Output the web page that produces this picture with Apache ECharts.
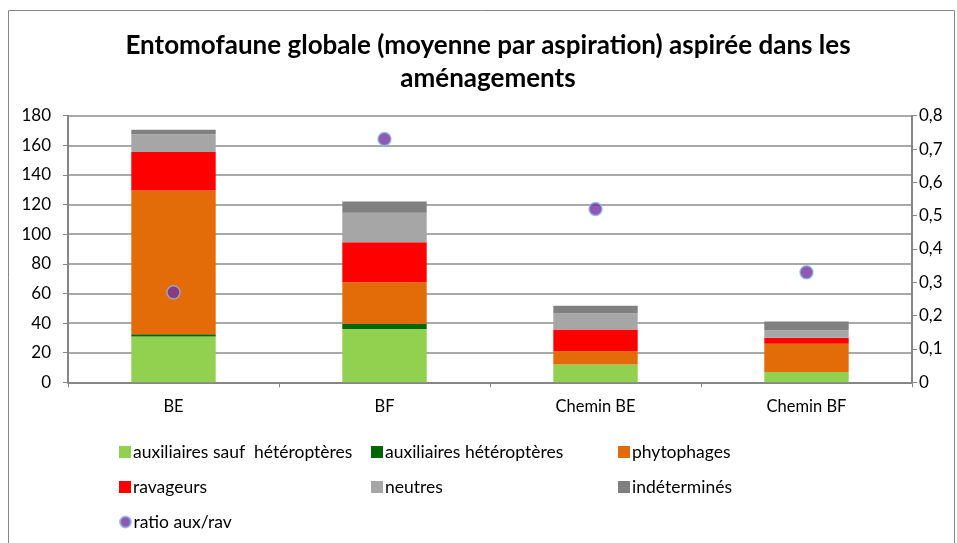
<!DOCTYPE html>
<html>
<head>
<meta charset="utf-8">
<script src="https://cdn.jsdelivr.net/npm/echarts@6/dist/echarts.min.js"></script>
<style>
html,body{margin:0;padding:0;background:#fff;}
#c{width:957px;height:543px;}
</style>
</head>
<body>
<div id="c"></div>
<script>
const categories = ['BE', 'BF', 'Chemin BE', 'Chemin BF'];
const auxSauf = [31, 36, 12, 7];
const auxHet = [1.5, 3.5, 0, 0];
const phyto = [97, 28, 9, 19];
const ravageurs = [26, 27, 14.6, 4];
const neutres = [12, 20, 11, 5.2];
const indet = [3, 7.6, 5, 5.8];
const ratio = [0.27, 0.73, 0.52, 0.33];
const leftTicks = [0, 180, 20];
const rightTicks = [0, 0.8, 0.1];

const FONT = 'Lato';
const chart = echarts.init(document.getElementById('c'), null, {renderer: 'canvas'});

const barNames = ['auxiliaires sauf  hétéroptères', 'auxiliaires hétéroptères', 'phytophages', 'ravageurs', 'neutres', 'indéterminés'];
const barData = [auxSauf, auxHet, phyto, ravageurs, neutres, indet];
const barColors = ['#92D050', '#006600', '#E36C09', '#FF0000', '#A6A6A6', '#808080'];

const series = barData.map((d, i) => ({
  name: barNames[i], type: 'bar', stack: 'tot', data: d, barWidth: '40%',
  yAxisIndex: 0, itemStyle: {color: barColors[i]}
}));
series.push({
  name: 'ratio aux/rav', type: 'scatter', yAxisIndex: 1, data: ratio, symbolSize: 13,
  itemStyle: {color: '#7030A0', borderColor: '#8EB4E3', borderWidth: 1.5}, z: 5
});

const legendPos = [
  [119, 452], [371, 452], [618, 452],
  [119, 487], [371, 487], [618, 487],
  [119, 522]
];
const allNames = barNames.concat(['ratio aux/rav']);
const legends = allNames.map((n, i) => ({
  data: [{name: n, icon: i === 6 ? 'circle' : 'rect'}],
  left: legendPos[i][0], top: legendPos[i][1] - 10, padding: 0,
  itemWidth: 12, itemHeight: i === 6 ? 11 : 12, itemGap: 0,
  textStyle: {fontFamily: FONT, fontSize: 17.5, color: '#000', padding: [0, 0, 0, -3], lineHeight: 20},
  selectedMode: false
}));

chart.setOption({
  animation: false,
  textStyle: {fontFamily: FONT},
  grid: {left: 68, right: 45, top: 115.7, bottom: 160.7},
  legend: legends,
  graphic: [
    {type: 'rect', shape: {x: 8.5, y: 10.5, width: 946, height: 540}, style: {fill: 'none', stroke: '#868686', lineWidth: 1}, silent: true},
    {type: 'text', x: 488, y: 46, style: {text: 'Entomofaune globale (moyenne par aspiration) aspirée dans les', fontFamily: FONT, fontWeight: 'bold', fontSize: 26, fill: '#000', textAlign: 'center', textVerticalAlign: 'middle'}},
    {type: 'text', x: 488, y: 79, style: {text: 'aménagements', fontFamily: FONT, fontWeight: 'bold', fontSize: 26, fill: '#000', textAlign: 'center', textVerticalAlign: 'middle'}}
  ],
  xAxis: {
    type: 'category', data: categories,
    axisLine: {lineStyle: {color: '#868686', width: 2}},
    axisTick: {show: true, alignWithLabel: false, length: 5, lineStyle: {color: '#868686'}},
    axisLabel: {fontFamily: FONT, fontSize: 16.5, color: '#000', margin: 16}
  },
  yAxis: [
    {
      type: 'value', min: leftTicks[0], max: leftTicks[1], interval: leftTicks[2],
      axisLine: {show: true, lineStyle: {color: '#868686', width: 2}},
      axisTick: {show: true, length: 5, lineStyle: {color: '#868686'}},
      axisLabel: {fontFamily: FONT, fontSize: 17, color: '#000', margin: 17},
      splitLine: {lineStyle: {color: '#8C8C8C', width: 1.5}}
    },
    {
      type: 'value', min: rightTicks[0], max: rightTicks[1], interval: rightTicks[2],
      axisLine: {show: true, lineStyle: {color: '#868686', width: 2}},
      axisTick: {show: true, length: 5, lineStyle: {color: '#868686'}},
      axisLabel: {fontFamily: FONT, fontSize: 17, color: '#000', margin: 7,
        formatter: v => String(Math.round(v * 10) / 10).replace('.', ',')},
      splitLine: {show: false}
    }
  ],
  series: series
});
</script>
</body>
</html>
